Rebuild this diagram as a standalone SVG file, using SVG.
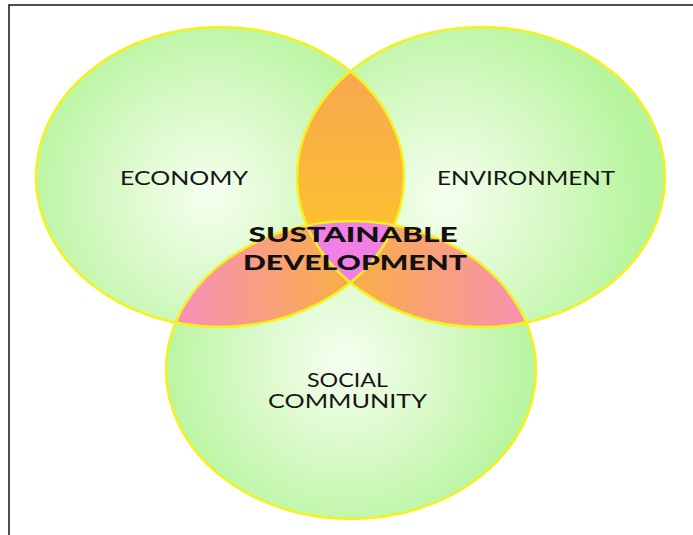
<svg xmlns="http://www.w3.org/2000/svg" width="693" height="535" viewBox="0 0 693 535">
  <defs>
    <radialGradient id="gE" gradientUnits="userSpaceOnUse" cx="210" cy="195" r="190">
      <stop offset="0" stop-color="#f6fff0"/>
      <stop offset="0.55" stop-color="#d6f9c4"/>
      <stop offset="1" stop-color="#b6f59e"/>
    </radialGradient>
    <radialGradient id="gV" gradientUnits="userSpaceOnUse" cx="445" cy="200" r="200">
      <stop offset="0" stop-color="#f6fff0"/>
      <stop offset="0.55" stop-color="#d6f9c4"/>
      <stop offset="1" stop-color="#b6f59e"/>
    </radialGradient>
    <radialGradient id="gS" gradientUnits="userSpaceOnUse" cx="345" cy="360" r="190">
      <stop offset="0" stop-color="#f6fff0"/>
      <stop offset="0.55" stop-color="#d6f9c4"/>
      <stop offset="1" stop-color="#b6f59e"/>
    </radialGradient>
    <linearGradient id="gEV" gradientUnits="userSpaceOnUse" x1="0" y1="75" x2="0" y2="280">
      <stop offset="0" stop-color="#f8a84e"/>
      <stop offset="1" stop-color="#fdc826"/>
    </linearGradient>
    <linearGradient id="gES" gradientUnits="userSpaceOnUse" x1="180" y1="0" x2="330" y2="0">
      <stop offset="0" stop-color="#f78fb8"/>
      <stop offset="1" stop-color="#f9ab52"/>
    </linearGradient>
    <linearGradient id="gVS" gradientUnits="userSpaceOnUse" x1="370" y1="0" x2="522" y2="0">
      <stop offset="0" stop-color="#f9ab52"/>
      <stop offset="1" stop-color="#f792b0"/>
    </linearGradient>
    <clipPath id="cE"><ellipse cx="220" cy="177" rx="184" ry="150"/></clipPath>
    <clipPath id="cV"><ellipse cx="481" cy="177" rx="184" ry="150"/></clipPath>
    <clipPath id="cS"><ellipse cx="351" cy="370" rx="185" ry="149"/></clipPath>
    <style>
      .ring { fill: none; stroke: #f4f21c; stroke-width: 2.5; }
      .lbl { font-family: "Lato", "Open Sans", sans-serif; font-size: 19px; fill: #151515; text-anchor: middle; }
      .big { font-family: "Lato", "Open Sans", sans-serif; font-size: 21px; font-weight: 900; fill: #111; text-anchor: middle; }
    </style>
  </defs>

  <rect x="0" y="0" width="693" height="535" fill="#ffffff"/>
  <rect x="9" y="5" width="720" height="560" fill="none" stroke="#222" stroke-width="1.6"/>

  <g id="economy">
    <ellipse cx="220" cy="177" rx="184" ry="150" fill="url(#gE)"/>
  </g>
  <g id="environment">
    <ellipse cx="481" cy="177" rx="184" ry="150" fill="url(#gV)"/>
  </g>
  <g id="social">
    <ellipse cx="351" cy="370" rx="185" ry="149" fill="url(#gS)"/>
  </g>

  <g id="overlaps">
    <g clip-path="url(#cE)"><ellipse cx="481" cy="177" rx="184" ry="150" fill="url(#gEV)"/></g>
    <g clip-path="url(#cE)"><ellipse cx="351" cy="370" rx="185" ry="149" fill="url(#gES)"/></g>
    <g clip-path="url(#cV)"><ellipse cx="351" cy="370" rx="185" ry="149" fill="url(#gVS)"/></g>
    <g clip-path="url(#cE)"><g clip-path="url(#cV)"><ellipse cx="351" cy="370" rx="185" ry="149" fill="#f27fe6"/></g></g>
  </g>

  <g id="outlines">
    <ellipse class="ring" cx="220" cy="177" rx="184" ry="150"/>
    <ellipse class="ring" cx="481" cy="177" rx="184" ry="150"/>
    <ellipse class="ring" cx="351" cy="370" rx="185" ry="149"/>
  </g>

  <g id="labels">
    <text class="lbl" x="184" y="185" textLength="128" lengthAdjust="spacingAndGlyphs">ECONOMY</text>
    <text class="lbl" x="526" y="185" textLength="178" lengthAdjust="spacingAndGlyphs">ENVIRONMENT</text>
    <text class="lbl" x="347.5" y="387" textLength="81" lengthAdjust="spacingAndGlyphs">SOCIAL</text>
    <text class="lbl" x="347.5" y="408" textLength="159" lengthAdjust="spacingAndGlyphs">COMMUNITY</text>
    <text class="big" x="353" y="242" textLength="209" lengthAdjust="spacingAndGlyphs">SUSTAINABLE</text>
    <text class="big" x="355" y="270" textLength="224" lengthAdjust="spacingAndGlyphs">DEVELOPMENT</text>
  </g>
</svg>
